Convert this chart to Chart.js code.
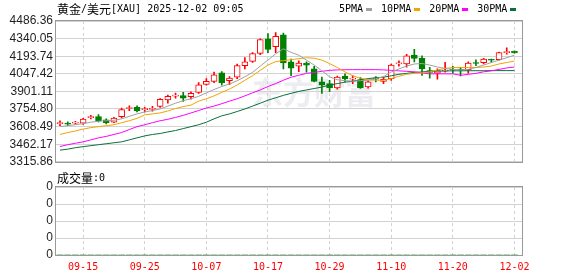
<!DOCTYPE html>
<html>
<head>
<meta charset="utf-8">
<script src="https://cdn.jsdelivr.net/npm/chart.js@4.4.1/dist/chart.umd.min.js"></script>
<style>
  html, body { margin: 0; padding: 0; background: #fff; }
  #wrap { position: relative; width: 578px; height: 276px; }
  #priceBox { position: absolute; left: 0; top: 0; width: 578px; height: 172px; }
  #volBox { position: absolute; left: 0; top: 172px; width: 578px; height: 104px; }
</style>
</head>
<body>
<div id="wrap">
  <div id="priceBox"><canvas id="priceChart"></canvas></div>
  <div id="volBox"><canvas id="volChart"></canvas></div>
</div>
<script>
// 数据
const titleText = '黄金/美元[XAU] 2025-12-02 09:05';
const volTitle = '成交量:0';

const dates = [
  '09-10','09-11','09-12','09-15','09-16','09-17','09-18','09-19','09-22','09-23',
  '09-24','09-25','09-26','09-29','09-30','10-01','10-02','10-03','10-06','10-07',
  '10-08','10-09','10-10','10-13','10-14','10-15','10-16','10-17','10-20','10-21',
  '10-22','10-23','10-24','10-27','10-28','10-29','10-30','10-31','11-03','11-04',
  '11-05','11-06','11-07','11-10','11-11','11-12','11-13','11-14','11-17','11-18',
  '11-19','11-20','11-21','11-24','11-25','11-26','11-27','11-28','12-01','12-02'
];
const shownDates = ['09-15','09-25','10-07','10-17','10-29','11-10','11-20','12-02'];

const open = [
  3633, 3637, 3637, 3638, 3683, 3692, 3665, 3646, 3690, 3759,
  3768, 3749, 3752, 3776, 3830, 3862, 3866, 3858, 3893, 3960,
  3985, 4055, 3990, 4020, 4115, 4151, 4216, 4338, 4272, 4372,
  4147, 4110, 4137, 4088, 3980, 3966, 3931, 4029, 4003, 3998,
  3939, 4011, 3985, 4007, 4130, 4129, 4204, 4177, 4074, 4053,
  4070, 4086, 4086, 4082, 4141, 4139, 4168, 4164, 4224, 4234
];
const high = [
  3657, 3649, 3653, 3677, 3702, 3708, 3673, 3685, 3763, 3781,
  3781, 3768, 3777, 3842, 3871, 3887, 3893, 3898, 3974, 4007,
  4061, 4066, 4025, 4129, 4183, 4224, 4338, 4381, 4391, 4386,
  4169, 4155, 4147, 4110, 4020, 3993, 4029, 4047, 4033, 4015,
  3990, 4025, 4020, 4129, 4155, 4210, 4251, 4196, 4102, 4088,
  4142, 4110, 4102, 4147, 4164, 4177, 4169, 4229, 4264, 4238
];
const low = [
  3617, 3617, 3629, 3627, 3673, 3647, 3630, 3641, 3681, 3741,
  3730, 3730, 3736, 3768, 3803, 3844, 3817, 3836, 3885, 3952,
  3974, 3952, 3958, 4007, 4088, 4142, 4207, 4224, 4224, 4088,
  4031, 4066, 4061, 3980, 3885, 3898, 3920, 3980, 3966, 3925,
  3929, 3980, 3966, 3993, 4110, 4102, 4147, 4033, 4012, 4003,
  4061, 4053, 4029, 4053, 4115, 4129, 4142, 4161, 4210, 4218
];
const close = [
  3639, 3629, 3643, 3671, 3690, 3657, 3641, 3679, 3749, 3764,
  3741, 3755, 3758, 3836, 3860, 3868, 3844, 3885, 3955, 3985,
  4039, 3974, 4012, 4115, 4147, 4216, 4332, 4251, 4359, 4137,
  4094, 4137, 4120, 3985, 3952, 3931, 4020, 4007, 4011, 3933,
  3980, 4003, 4001, 4120, 4137, 4196, 4175, 4088, 4058, 4074,
  4078, 4078, 4078, 4137, 4133, 4169, 4160, 4224, 4231, 4220
];

const ma5 = [
  3608, 3616, 3624, 3633, 3645, 3653, 3657, 3661, 3673, 3694,
  3714, 3730, 3742, 3755, 3779, 3803, 3824, 3840, 3860, 3889,
  3917, 3942, 3962, 3990, 4023, 4059, 4112, 4161, 4214, 4255,
  4226, 4202, 4161, 4120, 4072, 4023, 3998, 3990, 3986, 3990,
  3994, 4007, 4023, 4063, 4088, 4112, 4129, 4133, 4120, 4104,
  4092, 4084, 4080, 4084, 4100, 4120, 4141, 4161, 4181, 4202
];
const ma10 = [
  3543, 3559, 3572, 3588, 3600, 3608, 3616, 3624, 3641, 3657,
  3677, 3706, 3714, 3722, 3738, 3759, 3775, 3787, 3820, 3840,
  3864, 3893, 3921, 3954, 3994, 4031, 4076, 4120, 4149, 4157,
  4165, 4173, 4181, 4177, 4161, 4133, 4100, 4063, 4031, 4011,
  3998, 3994, 3994, 4007, 4027, 4043, 4051, 4055, 4063, 4080,
  4092, 4100, 4100, 4100, 4100, 4104, 4112, 4129, 4141, 4153
];
const ma20 = [
  3443, 3458, 3470, 3482, 3498, 3515, 3527, 3543, 3559, 3584,
  3608, 3624, 3641, 3657, 3669, 3685, 3702, 3722, 3742, 3763,
  3779, 3799, 3820, 3840, 3864, 3889, 3913, 3942, 3966, 3994,
  4019, 4035, 4051, 4059, 4068, 4076, 4080, 4081, 4082, 4082,
  4082, 4082, 4080, 4076, 4072, 4068, 4064, 4055, 4047, 4047,
  4047, 4047, 4035, 4043, 4051, 4064, 4072, 4084, 4096, 4104
];
const ma30 = [
  3413, 3421, 3433, 3442, 3450, 3458, 3466, 3474, 3482, 3498,
  3515, 3531, 3543, 3551, 3564, 3576, 3592, 3608, 3624, 3645,
  3673, 3698, 3714, 3734, 3755, 3779, 3803, 3828, 3848, 3868,
  3885, 3901, 3913, 3925, 3937, 3954, 3966, 3978, 3986, 3998,
  4007, 4015, 4019, 4031, 4043, 4051, 4059, 4063, 4068, 4070,
  4071, 4072, 4072, 4073, 4073, 4073, 4074, 4074, 4074, 4074
];
const volume = [
  0, 0, 0, 0, 0, 0, 0, 0, 0, 0,
  0, 0, 0, 0, 0, 0, 0, 0, 0, 0,
  0, 0, 0, 0, 0, 0, 0, 0, 0, 0,
  0, 0, 0, 0, 0, 0, 0, 0, 0, 0,
  0, 0, 0, 0, 0, 0, 0, 0, 0, 0,
  0, 0, 0, 0, 0, 0, 0, 0, 0, 0
];

const maNames = ['5PMA', '10PMA', '20PMA', '30PMA'];
const priceTicks = [3315.86, 3462.17, 3608.49, 3754.80, 3901.11, 4047.42, 4193.74, 4340.05, 4486.36];
const volTicks = [0, 1, 2, 3, 4];
const volTickLabels = ['0', '0', '0', '0', '0'];

// 样式
const RED = '#ff0000';
const GREEN = '#008000';
const maColors = ['#a0a0a0', '#f4a300', '#ff00ff', '#08703a'];
const MONO = "10px 'DejaVu Sans Mono'";
const CJK = "12px 'Noto Sans CJK SC'";
const GRID = '#d2d2d2';
const xTickIdx = shownDates.map(d => dates.indexOf(d));
const isUp = dates.map((d, i) => close[i] >= open[i]);

// 中文用 CJK 字体, 其他用等宽字体
function drawMixed(ctx, text, x, y) {
  const parts = text.match(/[\u3000-\u9fff\uff00-\uffef]+|[^\u3000-\u9fff\uff00-\uffef]+/g) || [];
  parts.forEach(p => {
    ctx.font = /[\u3000-\u9fff\uff00-\uffef]/.test(p) ? CJK : MONO;
    ctx.fillText(p, x, y);
    x += ctx.measureText(p).width;
  });
  return x;
}

const framePlugin = {
  id: 'frame',
  afterDraw(chart) {
    const { ctx, chartArea: a } = chart;
    ctx.save();
    ctx.strokeStyle = '#999';
    ctx.lineWidth = 1;
    ctx.strokeRect(Math.round(a.left) - 0.5, Math.round(a.top) - 0.5,
      Math.round(a.right - a.left) + 1, Math.round(a.bottom - a.top) + 1);
    ctx.restore();
  }
};

const priceDecor = {
  id: 'priceDecor',
  beforeDraw(chart) {
    const { ctx } = chart;
    ctx.save();
    ctx.font = "bold 31px 'Noto Sans CJK SC'";
    ctx.fillStyle = '#ececf1';
    ctx.textAlign = 'center';
    ctx.textBaseline = 'middle';
    ctx.fillText('东方财富', 314, 92);
    ctx.restore();
  },
  afterDraw(chart) {
    const { ctx } = chart;
    ctx.save();
    ctx.fillStyle = '#000';
    ctx.textBaseline = 'middle';
    drawMixed(ctx, titleText, 57, 9);
    // 图例
    let x = 339;
    ctx.font = MONO;
    maNames.forEach((n, k) => {
      ctx.fillStyle = '#000';
      ctx.fillText(n, x, 9);
      x += ctx.measureText(n).width + 3;
      ctx.fillStyle = maColors[k];
      ctx.fillRect(Math.round(x), 8, 6, 3);
      x += 6 + 9;
    });
    ctx.restore();
  }
};

const volDecor = {
  id: 'volDecor',
  afterDraw(chart) {
    const { ctx } = chart;
    ctx.save();
    ctx.fillStyle = '#000';
    ctx.textBaseline = 'middle';
    drawMixed(ctx, volTitle, 57, 6);
    ctx.restore();
  }
};

const xBase = {
  type: 'linear',
  min: -0.52,
  max: 59.98,
  offset: false,
  afterBuildTicks: s => { s.ticks = xTickIdx.map(v => ({ value: v })); },
  grid: { color: GRID, drawTicks: false, offset: false },
  border: { display: false, dash: [3, 3] }
};

const maLine = (arr, k) => ({
  type: 'line',
  data: arr.map((v, i) => ({ x: i, y: v })),
  borderColor: maColors[k],
  borderWidth: 1,
  pointRadius: 0,
  tension: 0,
  order: 0
});

new Chart(document.getElementById('priceChart'), {
  data: {
    datasets: [
      {
        type: 'bar',
        data: dates.map((d, i) => ({ x: i, y: [low[i], high[i]] })),
        backgroundColor: isUp.map(u => u ? RED : GREEN),
        barThickness: 1,
        grouped: false,
        order: 3
      },
      {
        type: 'bar',
        data: dates.map((d, i) => ({ x: i, y: [Math.min(open[i], close[i]), Math.max(open[i], close[i])] })),
        backgroundColor: isUp.map(u => u ? '#ffffff' : GREEN),
        borderColor: isUp.map(u => u ? RED : GREEN),
        borderWidth: 1,
        borderSkipped: false,
        barThickness: 6,
        minBarLength: 1,
        grouped: false,
        order: 2
      },
      maLine(ma5, 0),
      maLine(ma10, 1),
      maLine(ma20, 2),
      maLine(ma30, 3)
    ]
  },
  options: {
    responsive: true,
    maintainAspectRatio: false,
    animation: false,
    devicePixelRatio: 1,
    layout: { padding: { left: 0, right: 56, top: 21, bottom: 7 } },
    plugins: { legend: { display: false }, tooltip: { enabled: false } },
    scales: {
      x: Object.assign({}, xBase, {
        ticks: { display: false },
        afterFit: s => { s.height = 0; }
      }),
      y: {
        type: 'linear',
        min: priceTicks[0],
        max: priceTicks[priceTicks.length - 1],
        afterBuildTicks: s => { s.ticks = priceTicks.map(v => ({ value: v })); },
        ticks: {
          autoSkip: false,
          callback: v => v.toFixed(2),
          font: { family: 'Liberation Sans', size: 12 },
          color: '#1e1e1e',
          padding: 3
        },
        grid: { color: GRID, drawTicks: false },
        border: { display: false },
        afterFit: s => { s.width = 56; }
      }
    }
  },
  plugins: [priceDecor, framePlugin]
});

new Chart(document.getElementById('volChart'), {
  type: 'bar',
  data: {
    datasets: [{
      data: volume.map((v, i) => ({ x: i, y: v })),
      backgroundColor: GREEN,
      barThickness: 6
    }]
  },
  options: {
    responsive: true,
    maintainAspectRatio: false,
    animation: false,
    devicePixelRatio: 1,
    layout: { padding: { left: 0, right: 56, top: 15, bottom: 0 } },
    plugins: { legend: { display: false }, tooltip: { enabled: false } },
    scales: {
      x: Object.assign({}, xBase, {
        ticks: {
          autoSkip: false,
          maxRotation: 0,
          callback: v => dates[v],
          font: { family: 'DejaVu Sans Mono', size: 10 },
          color: RED,
          padding: 6
        },
        afterFit: s => { s.height = 21; }
      }),
      y: {
        type: 'linear',
        min: volTicks[0],
        max: volTicks[volTicks.length - 1],
        afterBuildTicks: s => { s.ticks = volTicks.map(v => ({ value: v })); },
        ticks: {
          autoSkip: false,
          callback: (v, i) => volTickLabels[i],
          font: { family: 'Liberation Sans', size: 12 },
          color: '#1e1e1e',
          padding: 3
        },
        grid: { color: GRID, drawTicks: false },
        border: { display: false },
        afterFit: s => { s.width = 56; }
      }
    }
  },
  plugins: [volDecor, framePlugin]
});
</script>
</body>
</html>
